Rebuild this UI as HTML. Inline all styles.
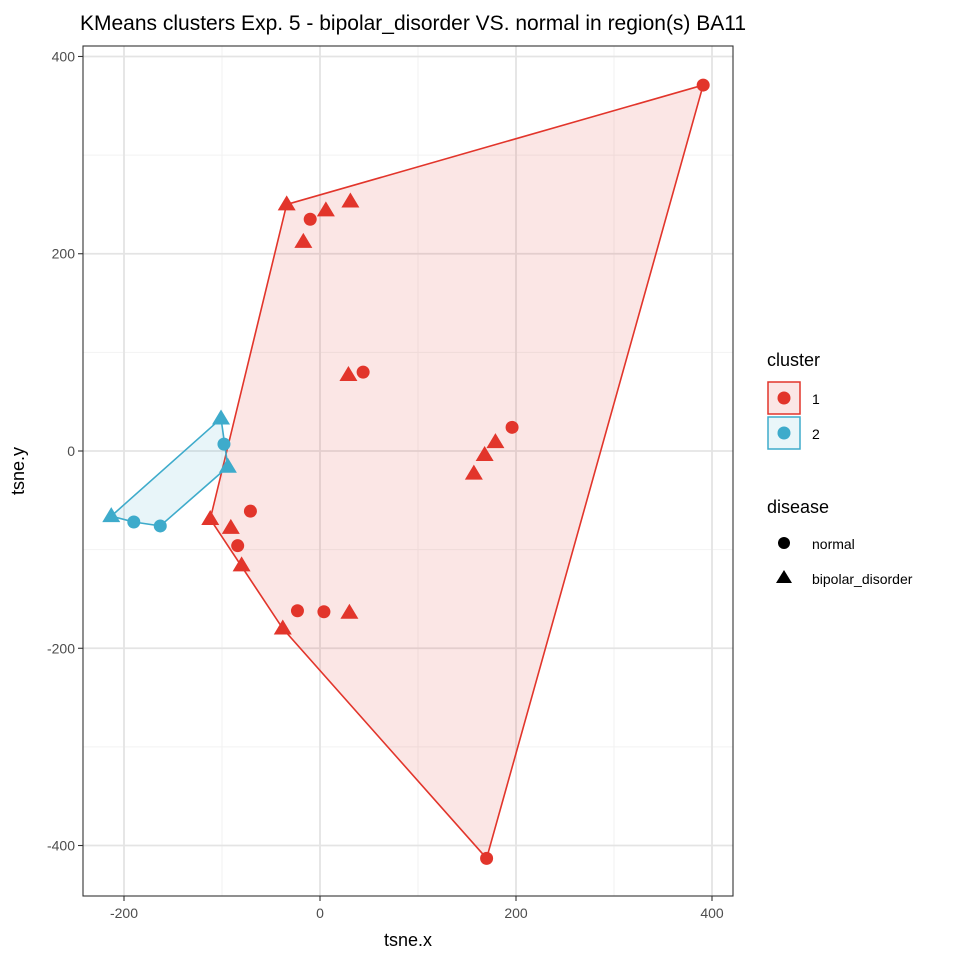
<!DOCTYPE html>
<html><head><meta charset="utf-8">
<style>
body{margin:0;background:#fff;}
svg text{font-family:"Liberation Sans",Arial,sans-serif;}
</style></head>
<body>
<svg id="chart" width="960" height="960" xmlns="http://www.w3.org/2000/svg">
<rect width="960" height="960" fill="#fff"/>
<text x="80" y="30" font-size="21" fill="#000">KMeans clusters Exp. 5 - bipolar_disorder VS. normal in region(s) BA11</text>
<g id="grid"></g>
<g id="hulls"></g>
<g id="points"></g>
<rect x="83" y="46" width="650" height="850" fill="none" stroke="#333" stroke-width="1.1"/>
<g id="axes"></g>
<text x="408" y="946" font-size="18" text-anchor="middle">tsne.x</text>
<text x="0" y="0" font-size="18" text-anchor="middle" transform="translate(24,471) rotate(-90)">tsne.y</text>
<g>
<text x="767" y="366" font-size="18">cluster</text>
<g>
<rect x="768" y="382" width="32" height="32" fill="#fbe6e5" stroke="#e2352b" stroke-width="1.5"/>
<circle cx="784" cy="398" r="6.5" fill="#e2352b"/>
<text x="812" y="404" font-size="14">1</text></g>
<g>
<rect x="768" y="417" width="32" height="32" fill="#eaf6f9" stroke="#3eabcb" stroke-width="1.5"/>
<circle cx="784" cy="433" r="6.5" fill="#3eabcb"/>
<text x="812" y="439" font-size="14">2</text></g>
<text x="767" y="513" font-size="18">disease</text>
<g>
<circle cx="784" cy="543" r="6" fill="#000"/>
<text x="812" y="549" font-size="14">normal</text></g>
<g>
<polygon points="784,570 792,583 776,583" fill="#000"/>
<text x="812" y="584" font-size="14">bipolar_disorder</text></g>
</g>
</svg>
<script>
const xTicks=[-200,0,200,400];
const yTicks=[-400,-200,0,200,400];
const xMinor=[-100,100,300];
const yMinor=[-300,-100,100,300];
const c1x=[391,-34,-10,6,31,-17,29,44,196,179,168,157,-112,-91,-71,-84,-80,-23,4,30,-38,170];
const c1y=[371,250,235,244,253,212,77,80,24,9,-4,-23,-69,-78,-61,-96,-116,-162,-163,-164,-180,-413];
const c1s=["n","b","n","b","b","b","b","n","n","b","b","b","b","b","n","n","b","n","n","b","b","n"];
const c2x=[-101,-98,-94,-213,-190,-163];
const c2y=[33,7,-16,-66,-72,-76];
const c2s=["b","n","b","b","n","n"];
const NS="http://www.w3.org/2000/svg";
function sx(v){return 320+v*0.98;}
function sy(v){return 451-v*0.9863;}
function mk(tag,attrs,parent){const e=document.createElementNS(NS,tag);for(const k in attrs)e.setAttribute(k,attrs[k]);parent.appendChild(e);return e;}
const grid=document.getElementById('grid'),axes=document.getElementById('axes');
xMinor.forEach(v=>{const l=mk('line',{x1:sx(v),x2:sx(v),y1:46,y2:896,stroke:'#f2f2f2','stroke-width':1},grid);

});
yMinor.forEach(v=>{const l=mk('line',{y1:sy(v),y2:sy(v),x1:83,x2:733,stroke:'#f2f2f2','stroke-width':1},grid);

});
xTicks.forEach(v=>{const l=mk('line',{x1:sx(v),x2:sx(v),y1:46,y2:896,stroke:'#e4e4e4','stroke-width':1.8},grid);


const t=mk('line',{x1:sx(v),x2:sx(v),y1:896,y2:901,stroke:'#333','stroke-width':1.1},axes);


const tx=mk('text',{x:sx(v),y:918,'font-size':14,'text-anchor':'middle',fill:'#4d4d4d'},axes);tx.textContent=v;

});
yTicks.forEach(v=>{const l=mk('line',{y1:sy(v),y2:sy(v),x1:83,x2:733,stroke:'#e4e4e4','stroke-width':1.8},grid);


const t=mk('line',{y1:sy(v),y2:sy(v),x1:78,x2:83,stroke:'#333','stroke-width':1.1},axes);


const tx=mk('text',{x:75,y:sy(v)+5,'font-size':14,'text-anchor':'end',fill:'#4d4d4d'},axes);tx.textContent=v;

});
function hull(pts){pts=pts.slice().sort((a,b)=>a[0]-b[0]||a[1]-b[1]);
const cr=(o,a,b)=>(a[0]-o[0])*(b[1]-o[1])-(a[1]-o[1])*(b[0]-o[0]);
const lo=[],up=[];for(const p of pts){while(lo.length>=2&&cr(lo[lo.length-2],lo[lo.length-1],p)<=0)lo.pop();lo.push(p);}
for(let i=pts.length-1;i>=0;i--){const p=pts[i];while(up.length>=2&&cr(up[up.length-2],up[up.length-1],p)<=0)up.pop();up.push(p);}
up.pop();lo.pop();return lo.concat(up);}
const hg=document.getElementById('hulls'),pg=document.getElementById('points');
function drawCluster(xs,ys,ss,col,fill,name){
const pts=xs.map((x,i)=>[sx(x),sy(ys[i])]);
const h=hull(pts);
const poly=mk('polygon',{points:h.map(p=>p.join(',')).join(' '),fill:fill,stroke:col,'stroke-width':1.6},hg);


pts.forEach((p,i)=>{let e;
if(ss[i]==='n'){e=mk('circle',{cx:p[0],cy:p[1],r:6.5,fill:col},pg);}
else{e=mk('polygon',{points:`${p[0]},${p[1]-9} ${p[0]+9},${p[1]+6} ${p[0]-9},${p[1]+6}`,fill:col},pg);}

});}
drawCluster(c1x,c1y,c1s,'#e2352b','rgba(226,53,43,0.12)','cluster-1');
drawCluster(c2x,c2y,c2s,'#3eabcb','rgba(62,171,203,0.12)','cluster-2');
</script>
</body></html>
